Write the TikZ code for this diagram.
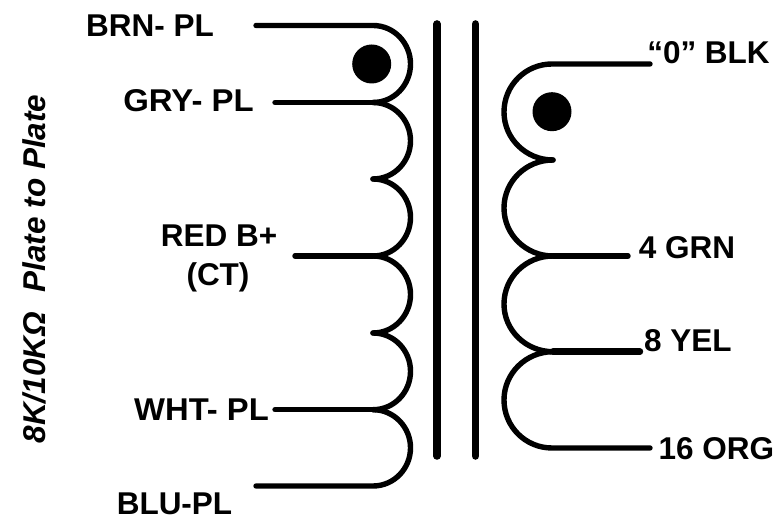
\documentclass[tikz,border=0pt]{standalone}
\usepackage{fontspec}
\setmainfont{Liberation Sans}
\tikzset{
  wire/.style={line width=5.4pt,line cap=round,line join=round},
  core/.style={line width=7.6pt,line cap=round},
  lbl/.style={font=\fontsize{31.5pt}{34pt}\selectfont\bfseries,inner sep=0pt,text=black,anchor=base},
  dotmark/.style={circle,fill=black,minimum size=39pt,inner sep=0pt}
}
\begin{document}
\begin{tikzpicture}[x=1pt,y=1pt]
\useasboundingbox (0,0) rectangle (777,518);
% left winding taps
\coordinate (L0) at (373,492.5); \coordinate (M1) at (410.5,454);
\coordinate (L1) at (373,415.5); \coordinate (M2) at (410.5,377.2);
\coordinate (L2) at (373,339);   \coordinate (M3) at (410.5,300.5);
\coordinate (L3) at (373,262);   \coordinate (M4) at (410.5,223.5);
\coordinate (L4) at (373,185);   \coordinate (M5) at (410.5,146.7);
\coordinate (L5) at (373,108.3); \coordinate (M6) at (410.5,70.2);
\coordinate (L6) at (373,32);
\coordinate (brn) at (256,492.5);
\coordinate (gry) at (275,415.5);
\coordinate (red) at (295,262);
\coordinate (wht) at (275,108.3);
\coordinate (blu) at (256,32);
% right winding taps
\coordinate (R0) at (552,454);   \coordinate (N1) at (504,406);
\coordinate (R1) at (553,358);   \coordinate (N2) at (504,310);
\coordinate (R2) at (553,262);   \coordinate (N3) at (504,214);
\coordinate (R3) at (553,166.3); \coordinate (N4) at (504,118);
\coordinate (R4) at (552,70);
\coordinate (blk) at (650,454);
\coordinate (grn) at (628,262);
\coordinate (yel) at (640,166.3);
\coordinate (org) at (650,70);
% core
\coordinate (c1t) at (437,494); \coordinate (c1b) at (437,62);
\coordinate (c2t) at (475.5,494); \coordinate (c2b) at (475.5,62);
\draw[core] (c1t) -- (c1b);
\draw[core] (c2t) -- (c2b);
% left winding
\draw[wire] (brn) -- (L0) to[out=0,in=90] (M1) to[out=-90,in=0] (L1);
\draw[wire] (L1) to[out=0,in=90] (M2) to[out=-90,in=0] (L2);
\draw[wire] (L2) to[out=0,in=90] (M3) to[out=-90,in=0] (L3);
\draw[wire] (L3) to[out=0,in=90] (M4) to[out=-90,in=0] (L4);
\draw[wire] (L4) to[out=0,in=90] (M5) to[out=-90,in=0] (L5);
\draw[wire] (L5) to[out=0,in=90] (M6) to[out=-90,in=0] (L6) -- (blu);
\draw[wire] (gry) -- (L1);
\draw[wire] (red) -- (L3);
\draw[wire] (wht) -- (L5);
% right winding
\draw[wire] (blk) -- (R0) to[out=180,in=90] (N1) to[out=-90,in=180] (R1);
\draw[wire] (R1) to[out=180,in=90] (N2) to[out=-90,in=180] (R2);
\draw[wire] (R2) to[out=180,in=90] (N3) to[out=-90,in=180] (R3);
\draw[wire] (R3) to[out=180,in=90] (N4) to[out=-90,in=180] (R4) -- (org);
\draw[wire] (R2) -- (grn);
\draw[wire,line width=6.4pt] (R3) -- (yel);
% polarity dots
\node[dotmark] (dotl) at (371.7,454) {};
\node[dotmark] (dotr) at (552,406.3) {};
% labels
\node[lbl] (tbrn) at (150,481) {BRN- PL};
\node[lbl,xscale=1.045] (tgry) at (188.5,406) {GRY- PL};
\node[lbl] (tred) at (219,271) {RED B+};
\node[lbl] (tct) at (218,232) {(CT)};
\node[lbl,xscale=1.04] (twht) at (201.5,97) {WHT- PL};
\node[lbl] (tblu) at (174.5,3) {BLU-PL};
\node[lbl] (tblk) at (708.5,454) {“0” BLK};
\node[lbl] (tgrn) at (687,259) {4 GRN};
\node[lbl] (tyel) at (688,166) {8 YEL};
\node[lbl] (torg) at (716.5,58) {16 ORG};
\node[lbl,rotate=90,font=\fontsize{31.5pt}{34pt}\selectfont\bfseries\itshape] (tside) at (45,249) {8K/10KΩ\hspace{0.62em}Plate to Plate};
\end{tikzpicture}
\end{document}
